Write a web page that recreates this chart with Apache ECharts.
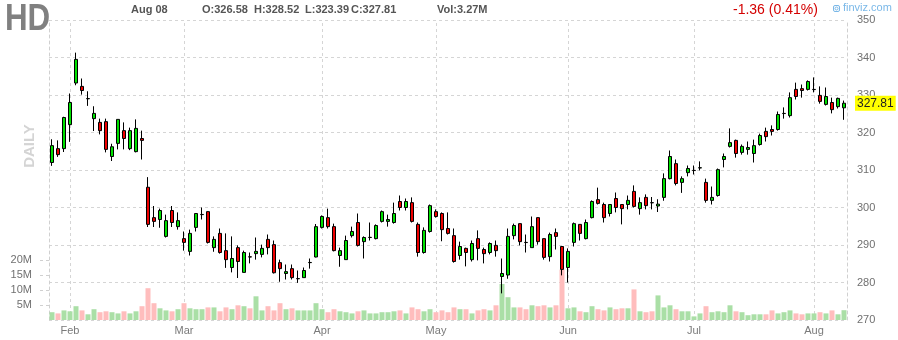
<!DOCTYPE html>
<html>
<head>
<meta charset="utf-8">
<script src="https://cdn.jsdelivr.net/npm/echarts@6/dist/echarts.min.js"></script>
<style>
  html, body { margin: 0; padding: 0; background: #fff; }
  #chart { width: 898px; height: 340px; }
</style>
</head>
<body>
<div id="chart"></div>
<script>
// Trading days (Jan 27 2023 - Aug 8 2023)
const dates = [
  '2023-01-27','2023-01-30','2023-01-31',
  '2023-02-01','2023-02-02','2023-02-03','2023-02-06','2023-02-07','2023-02-08','2023-02-09','2023-02-10','2023-02-13','2023-02-14','2023-02-15','2023-02-16','2023-02-17','2023-02-21','2023-02-22','2023-02-23','2023-02-24','2023-02-27','2023-02-28',
  '2023-03-01','2023-03-02','2023-03-03','2023-03-06','2023-03-07','2023-03-08','2023-03-09','2023-03-10','2023-03-13','2023-03-14','2023-03-15','2023-03-16','2023-03-17','2023-03-20','2023-03-21','2023-03-22','2023-03-23','2023-03-24','2023-03-27','2023-03-28','2023-03-29','2023-03-30','2023-03-31',
  '2023-04-03','2023-04-04','2023-04-05','2023-04-06','2023-04-10','2023-04-11','2023-04-12','2023-04-13','2023-04-14','2023-04-17','2023-04-18','2023-04-19','2023-04-20','2023-04-21','2023-04-24','2023-04-25','2023-04-26','2023-04-27','2023-04-28',
  '2023-05-01','2023-05-02','2023-05-03','2023-05-04','2023-05-05','2023-05-08','2023-05-09','2023-05-10','2023-05-11','2023-05-12','2023-05-15','2023-05-16','2023-05-17','2023-05-18','2023-05-19','2023-05-22','2023-05-23','2023-05-24','2023-05-25','2023-05-26','2023-05-30','2023-05-31',
  '2023-06-01','2023-06-02','2023-06-05','2023-06-06','2023-06-07','2023-06-08','2023-06-09','2023-06-12','2023-06-13','2023-06-14','2023-06-15','2023-06-16','2023-06-20','2023-06-21','2023-06-22','2023-06-23','2023-06-26','2023-06-27','2023-06-28','2023-06-29','2023-06-30',
  '2023-07-03','2023-07-05','2023-07-06','2023-07-07','2023-07-10','2023-07-11','2023-07-12','2023-07-13','2023-07-14','2023-07-17','2023-07-18','2023-07-19','2023-07-20','2023-07-21','2023-07-24','2023-07-25','2023-07-26','2023-07-27','2023-07-28','2023-07-31',
  '2023-08-01','2023-08-02','2023-08-03','2023-08-04','2023-08-07','2023-08-08'
];

const opens = [
  312.0,315.7,315.7,322.1,333.2,332.3,329.0,323.7,322.7,322.9,
  313.6,317.1,320.5,315.7,314.9,318.4,305.4,297.3,296.8,292.3,
  299.2,294.9,291.7,288.3,294.7,298.1,298.9,289.3,293.1,288.5,
  284.0,289.3,282.7,286.85,287.7,287.5,291.5,290.1,285.3,282.4,
  283.7,281.0,281.3,285.3,286.8,294.7,297.3,294.9,287.2,286.1,
  292.5,296.0,290.9,292.0,291.7,296.3,296.3,296.0,301.6,300.0,
  301.3,295.5,288.0,293.6,298.9,298.4,294.4,292.5,287.2,289.1,
  286.1,291.7,288.8,288.0,289.9,281.6,282.0,292.5,295.7,290.7,
  289.3,297.3,291.7,286.9,293.3,289.6,284.0,290.7,295.5,291.7,
  297.3,302.1,300.8,298.4,302.4,300.8,300.8,304.3,299.7,302.7,
  301.3,300.4,302.7,307.7,311.7,306.7,309.3,309.85,310.55,306.7,
  301.9,303.2,312.8,316.3,317.9,314.7,315.5,314.4,316.8,320.3,
  320.8,320.8,325.05,324.5,331.5,331.7,331.5,331.45,329.9,327.5,
  328.0,326.9,326.58
];
const closes = [
  316.5,314.1,324.0,328.0,339.5,331.2,329.05,325.1,320.5,315.5,
  316.2,323.5,318.4,320.5,321.1,317.9,295.5,296.3,299.2,296.5,
  296.0,296.5,290.7,293.1,298.4,298.15,290.7,291.5,288.0,286.1,
  286.4,285.6,288.0,286.8,288.3,289.1,289.3,282.6,283.7,282.9,
  281.3,281.05,283.2,285.35,294.9,297.6,294.9,288.5,288.5,291.2,
  293.6,289.9,292.0,292.05,295.2,298.9,296.8,298.4,300.0,301.6,
  296.3,288.0,293.9,300.5,297.6,294.1,293.1,285.6,289.6,288.0,
  290.4,289.1,287.7,290.4,288.5,282.4,292.3,295.2,290.9,290.65,
  294.9,290.9,286.7,292.8,292.3,283.5,288.3,295.7,293.1,296.0,
  301.6,301.1,297.3,300.8,300.0,299.7,301.9,300.3,301.3,300.5,
  301.25,300.9,307.7,313.6,306.4,307.7,310.4,309.9,310.6,301.9,
  302.7,310.1,313.6,317.3,314.4,316.3,316.0,316.5,319.2,318.9,
  320.3,324.8,325.1,329.3,329.6,331.2,333.6,331.5,328.3,329.6,
  326.1,329.1,327.81
];
const lows = [
  311.1,313.5,314.8,317.5,332.6,330.1,327.1,320.4,319.5,314.7,
  312.4,315.5,315.5,315.3,314.7,312.8,294.8,294.8,294.6,292.0,
  294.8,294.1,288.5,287.2,293.6,296.8,290.4,288.2,287.7,283.9,
  282.7,281.2,282.7,285.1,286.1,286.7,287.5,282.4,280.2,280.8,
  280.8,279.9,281.3,283.7,286.7,294.4,294.4,288.3,284.2,286.1,
  292.0,289.6,286.4,291.2,291.5,296.0,294.9,295.7,299.2,299.2,
  296.0,286.9,287.7,293.3,297.3,291.0,292.8,285.3,286.1,284.3,
  285.6,285.9,285.1,287.5,286.9,277.1,281.0,291.5,289.9,288.0,
  289.3,290.1,286.1,285.6,288.8,281.9,280.0,289.6,291.2,291.5,
  297.1,300.8,296.0,297.6,298.7,295.5,299.5,300.0,298.1,299.5,
  299.5,298.8,301.8,307.5,305.9,303.9,308.3,308.8,309.9,301.3,
  300.8,302.9,310.7,316.0,313.3,314.1,314.1,312.0,316.5,317.6,
  319.2,320.5,323.7,324.0,328.8,329.3,331.2,330.7,327.7,327.2,
  325.1,326.4,323.39
];
const highs = [
  318.2,317.9,324.2,330.4,341.3,334.4,331.0,327.0,323.7,323.7,
  317.0,323.5,322.7,321.3,323.5,320.5,308.1,300.4,299.7,298.1,
  300.4,298.7,293.6,294.1,298.5,300.0,299.0,292.3,294.4,293.1,
  292.3,289.9,288.5,288.0,292.0,290.1,292.8,291.2,286.1,284.8,
  284.8,283.2,284.0,286.4,295.6,297.9,299.7,295.7,289.3,292.5,
  294.9,298.4,292.3,296.0,295.5,299.2,298.1,301.3,303.2,302.4,
  302.7,296.0,294.7,300.8,299.5,298.7,298.7,294.4,290.9,289.3,
  291.2,293.9,289.3,290.7,291.2,286.4,294.4,295.7,295.75,292.8,
  297.6,297.35,291.75,293.3,294.4,289.65,289.1,296.0,295.55,296.8,
  301.9,305.3,301.3,300.85,304.0,300.85,303.2,305.9,302.7,303.5,
  302.8,302.2,309.1,315.2,312.8,308.3,311.2,311.2,312.3,307.7,
  305.6,310.4,314.4,321.1,318.1,316.8,317.6,318.1,319.7,321.3,
  321.9,325.6,326.7,330.7,333.3,332.8,333.9,334.7,332.3,332.0,
  329.3,329.3,328.52
];
// volume in millions
const volumes = [
  2.6,2.2,3.2,2.9,4.6,3.2,1.9,3.6,2.6,2.9,
  2.6,2.2,2.9,2.2,2.9,4.6,10.6,5.6,3.9,3.2,
  2.9,3.6,5.6,3.9,3.6,3.6,4.2,4.2,2.9,4.2,
  3.6,4.9,4.6,3.9,7.9,3.2,4.6,3.2,5.6,3.6,
  3.9,3.2,3.2,3.2,5.6,3.6,2.6,3.6,2.9,2.6,
  2.2,2.9,3.2,2.2,2.2,2.6,2.6,2.9,3.2,2.2,
  4.2,3.6,2.9,3.6,2.6,3.2,2.6,4.2,3.6,3.6,
  2.2,3.2,3.6,3.2,4.9,12.0,7.6,4.2,4.2,3.6,
  4.9,4.6,4.9,4.2,4.9,16.8,3.9,4.2,2.9,2.6,
  4.6,3.6,3.2,4.2,3.6,3.9,3.9,10.2,2.9,2.6,
  2.9,8.2,4.2,4.9,3.6,2.9,2.9,1.2,2.2,4.6,
  2.6,2.9,2.6,4.9,2.9,2.6,1.6,1.9,1.9,1.9,
  3.2,2.2,2.6,3.2,2.2,1.9,2.2,2.2,2.6,2.2,
  3.2,1.9,3.27
];
const priceTicks = [270, 350, 10];
const volumeTicks = [5, 10, 15, 20];
const monthNames = ['Jan','Feb','Mar','Apr','May','Jun','Jul','Aug','Sep','Oct','Nov','Dec'];
const lastClose = 327.81;

const isMonthStart = (i) => i > 0 && dates[i].slice(0, 7) !== dates[i - 1].slice(0, 7);
const monthStarts = dates.filter((d, i) => isMonthStart(i));

const candleData = dates.map((d, i) => [opens[i], closes[i], lows[i], highs[i]]);
const volData = dates.map((d, i) => ({
  value: volumes[i],
  itemStyle: { color: closes[i] >= opens[i] ? '#aadfa6' : '#ffbdbd' }
}));

const FONT = '"Liberation Sans", Arial, sans-serif';
const grid = { left: 49, right: 51, top: 20, height: 300 };

const chart = echarts.init(document.getElementById('chart'), null, { renderer: 'canvas' });
chart.setOption({
  animation: false,
  backgroundColor: '#fff',
  grid: grid,
  xAxis: {
    type: 'category',
    data: dates,
    boundaryGap: true,
    axisLine: { show: false },
    axisTick: { show: false },
    splitLine: { show: false },
    axisLabel: {
      interval: (i) => isMonthStart(i),
      formatter: (v) => monthNames[parseInt(v.slice(5, 7), 10) - 1],
      color: '#7a7a7a',
      fontSize: 11,
      fontFamily: FONT,
      margin: 5
    }
  },
  yAxis: [
    {
      type: 'value',
      position: 'right',
      min: priceTicks[0],
      max: priceTicks[1],
      interval: priceTicks[2],
      axisLine: { show: true, lineStyle: { color: '#d0d0d0', type: [3, 3] } },
      axisTick: { show: false },
      splitLine: { show: true, lineStyle: { color: '#d5d5d5', type: [3, 3] } },
      axisLabel: { color: '#707070', fontSize: 11, fontFamily: FONT, margin: 10 }
    },
    {
      type: 'value',
      position: 'left',
      min: 0,
      max: 100,
      axisLine: { show: true, lineStyle: { color: '#d0d0d0', type: [3, 3] } },
      axisTick: { show: true, customValues: volumeTicks, length: 9, lineStyle: { color: '#d0d0d0', type: [3, 3] } },
      splitLine: { show: false },
      axisLabel: {
        customValues: volumeTicks,
        formatter: '{value}M',
        color: '#707070', fontSize: 11, fontFamily: FONT, margin: 17
      }
    }
  ],
  series: [
    {
      type: 'bar',
      yAxisIndex: 1,
      data: volData,
      barWidth: 5,
      z: 2,
      silent: true,
      markLine: {
        silent: true,
        z: 1,
        symbol: 'none',
        label: { show: false },
        lineStyle: { color: '#d5d5d5', type: [3, 3], width: 1 },
        data: monthStarts.map(d => ({ xAxis: d }))
      }
    },
    {
      type: 'candlestick',
      yAxisIndex: 0,
      data: candleData,
      barWidth: 4,
      z: 3,
      itemStyle: {
        color: '#00e000',
        color0: '#ee0000',
        borderColor: '#000',
        borderColor0: '#000',
        borderWidth: 1
      },
      markLine: {
        silent: true,
        z: 10,
        symbol: 'none',
        lineStyle: { color: 'rgba(0,0,0,0)', width: 1, type: 'solid' },
        label: {
          show: true,
          position: 'end',
          formatter: lastClose.toFixed(2),
          backgroundColor: '#ffff00',
          color: '#222',
          fontSize: 12,
          fontFamily: FONT,
          padding: [2, 2, 1, 2],
          distance: 8
        },
        data: [{ yAxis: lastClose }]
      }
    }
  ],
  graphic: [
    { type: 'text', x: 5, y: 2, scaleX: 0.87, style: { text: 'HD', fontSize: 36, fontWeight: 'bold', fontFamily: FONT, fill: '#808080', textVerticalAlign: 'top' } },
    { type: 'text', x: 30, y: 146, rotation: Math.PI / 2, style: { text: 'DAILY', fontSize: 15, fontWeight: 'bold', fontFamily: FONT, fill: '#d4d4d4', textAlign: 'center', textVerticalAlign: 'middle' } },
    { type: 'text', x: 131, y: 10, style: { text: 'Aug 08', fontSize: 11, fontWeight: 'bold', fontFamily: FONT, fill: '#555', textVerticalAlign: 'middle' } },
    { type: 'text', x: 202, y: 10, style: { text: 'O:326.58', fontSize: 11, fontWeight: 'bold', fontFamily: FONT, fill: '#555', textVerticalAlign: 'middle' } },
    { type: 'text', x: 254, y: 10, style: { text: 'H:328.52', fontSize: 11, fontWeight: 'bold', fontFamily: FONT, fill: '#555', textVerticalAlign: 'middle' } },
    { type: 'text', x: 305, y: 10, style: { text: 'L:323.39', fontSize: 11, fontWeight: 'bold', fontFamily: FONT, fill: '#555', textVerticalAlign: 'middle' } },
    { type: 'text', x: 351, y: 10, style: { text: 'C:327.81', fontSize: 11, fontWeight: 'bold', fontFamily: FONT, fill: '#555', textVerticalAlign: 'middle' } },
    { type: 'text', x: 437, y: 10, style: { text: 'Vol:3.27M', fontSize: 11, fontWeight: 'bold', fontFamily: FONT, fill: '#555', textVerticalAlign: 'middle' } },
    { type: 'text', x: 733, y: 10, style: { text: '-1.36 (0.41%)', fontSize: 14, fontFamily: FONT, fill: '#d40000', textVerticalAlign: 'middle' } },
    { type: 'rect', shape: { x: 833.5, y: 5.5, width: 6, height: 6, r: 1.5 }, style: { fill: 'none', stroke: '#7ab8e8', lineWidth: 1 } },
    { type: 'circle', shape: { cx: 836.5, cy: 8.5, r: 1.5 }, style: { fill: 'none', stroke: '#7ab8e8', lineWidth: 1 } },
    { type: 'text', x: 843, y: 8, style: { text: 'finviz.com', fontSize: 11, fontFamily: FONT, fill: '#7ab8e8', textVerticalAlign: 'middle' } }
  ]
});
</script>
</body>
</html>
